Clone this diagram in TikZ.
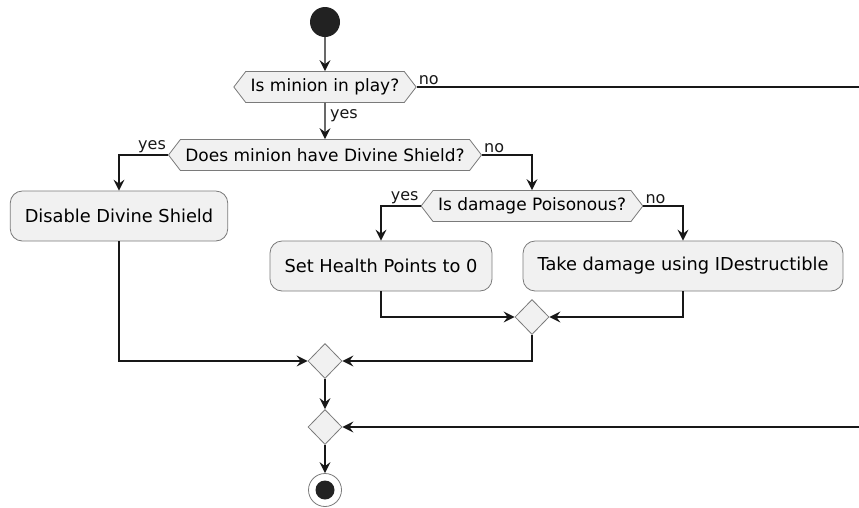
\documentclass[tikz,border=0pt]{standalone}
\usepackage{fontspec}
\setmainfont{DejaVu Sans}
\usetikzlibrary{shapes.geometric,shapes.symbols,arrows.meta,positioning}

\definecolor{umlfill}{HTML}{F1F1F1}
\definecolor{umlline}{HTML}{181818}
\definecolor{umlborder}{HTML}{7A7A7A}
\definecolor{umldot}{HTML}{222222}

\tikzset{
  action/.style={draw=umlborder, fill=umlfill, rounded corners=12pt, line width=0.8pt,
    minimum height=50pt, inner xsep=14.5pt, font=\fontsize{17.8}{20}\selectfont},
  decision/.style={shape=signal, signal to=west and east, signal pointer angle=105,
    draw=umlborder, fill=umlfill, line width=0.8pt, minimum height=31pt,
    inner xsep=5pt, inner ysep=0pt, font=\fontsize{17}{19}\selectfont},
  merge/.style={diamond, draw=umlborder, fill=umlfill, line width=0.8pt,
    minimum width=34pt, minimum height=35pt, inner sep=0pt},
  flow/.style={draw=umlline, line width=1.3pt, -{Stealth[length=11pt,width=11pt,inset=4pt]}},
  wire/.style={draw=umlline, line width=1.3pt},
  guard/.style={font=\fontsize{16}{18}\selectfont, inner sep=1.5pt, text=umlline}
}

\begin{document}
\begin{tikzpicture}[x=1pt, y=-1pt]
    \useasboundingbox (0,0) rectangle (859,507);

    \node[circle, fill=umldot, minimum size=30pt, inner sep=0pt] (start) at (325,22) {};
    \node[decision] (inplay) at (325,87) {Is minion in play?};
    \node[decision] (shield) at (325,155) {Does minion have Divine Shield?};
    \node[action] (disable) at (119,216) {Disable Divine Shield};
    \node[decision] (poison) at (532,206) {Is damage Poisonous?};
    \node[action] (sethp) at (381,266) {Set Health Points to 0};
    \node[action] (takedmg) at (683,266) {Take damage using IDestructible};
    \node[merge] (merge1) at (532,317) {};
    \node[merge] (merge2) at (325,361) {};
    \node[merge] (merge3) at (325,427) {};
    \node[circle, draw=umlborder, fill=white, line width=0.8pt, minimum size=33pt, inner sep=0pt] (stop) at (325,490) {};
    \fill[umldot] (stop.center) circle (9.5pt);

    \coordinate (outtop) at (859,87);
    \coordinate (outbot) at (859,427);

    \draw[flow] (start) -- (inplay);
    \draw[wire] (inplay.east) -- node[pos=0, guard, anchor=south west] {no} (outtop);
    \draw[flow] (inplay) -- node[pos=0, guard, anchor=north west, xshift=3pt, yshift=-4pt] {yes} (shield);

    \draw[flow] (shield.west) -| node[pos=0, guard, anchor=south east] {yes} (disable);
    \draw[flow] (shield.east) -| node[pos=0, guard, anchor=south west] {no} (poison);
    \draw[flow] (poison.west) -| node[pos=0, guard, anchor=south east] {yes} (sethp);
    \draw[flow] (poison.east) -| node[pos=0, guard, anchor=south west] {no} (takedmg);

    \draw[flow] (sethp) |- (merge1);
    \draw[flow] (takedmg) |- (merge1);
    \draw[flow] (disable) |- (merge2);
    \draw[flow] (merge1) |- (merge2);
    \draw[flow] (merge2) -- (merge3);
    \draw[flow] (outbot) -- (merge3);
    \draw[flow] (merge3) -- (stop);
\end{tikzpicture}
\end{document}
